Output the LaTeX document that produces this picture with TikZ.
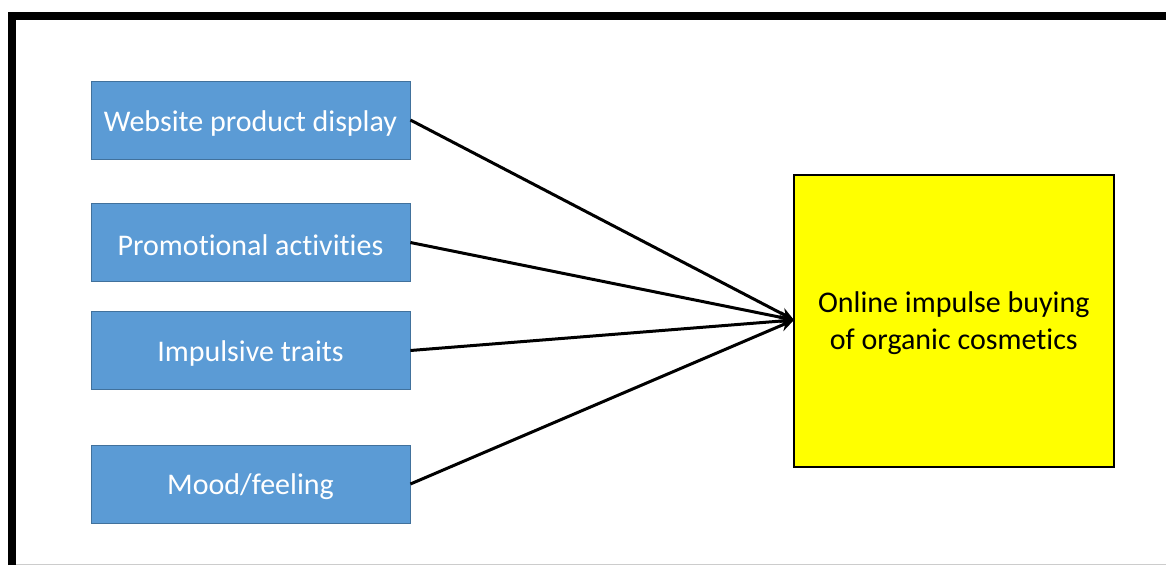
\documentclass[tikz,border=0pt]{standalone}
\usepackage{fontspec}
\setmainfont[Ligatures=NoCommon]{Carlito}
\usetikzlibrary{arrows.meta}
\definecolor{boxblue}{HTML}{5B9BD5}
\definecolor{boxedge}{HTML}{41719C}
\definecolor{outyellow}{HTML}{FFFF00}
\newcommand{\dnshift}[1]{\raisebox{-3pt}[\height][\depth]{#1}}
\begin{document}
\begin{tikzpicture}[x=1pt,y=-1pt,
  inbox/.style={draw=boxedge,line width=0.8pt,fill=boxblue,text=white,minimum width=319pt,minimum height=78pt,inner sep=0pt,font=\fontsize{30}{36}\selectfont},
  outbox/.style={draw=black,line width=2pt,fill=outyellow,text=black,minimum width=320pt,minimum height=292pt,inner sep=0pt,font=\fontsize{30}{37}\selectfont},
  conn/.style={line width=3pt,-{Stealth[length=14pt,width=12pt]}}]
\useasboundingbox (0,0) rectangle (1166,565);
\fill[white] (0,0) rectangle (1166,565);
\draw[line width=8pt,black] (12,565) -- (12,16.3) -- (1166,16.3);
\draw[line width=1pt,black!20] (16,564) -- (1166,564);
\node[inbox] (a) at (250.5,120) {\dnshift{Website product display}};
\node[inbox] (b) at (250.5,242.5) {\dnshift{Promotional activities}};
\node[inbox] (c) at (250.5,350.5) {\dnshift{Impulsive traits}};
\node[inbox] (d) at (250.5,484) {\dnshift{Mood/feeling}};
\node[outbox] (e) at (953.8,320.7) {\dnshift{\begin{tabular}{@{}c@{}}Online impulse buying\\of organic cosmetics\end{tabular}}};
\coordinate (t) at (794,320);
\draw[conn] (a.east) -- (t);
\draw[conn] (b.east) -- (t);
\draw[conn] (c.east) -- (t);
\draw[conn] (d.east) -- (t);
\end{tikzpicture}
\end{document}
